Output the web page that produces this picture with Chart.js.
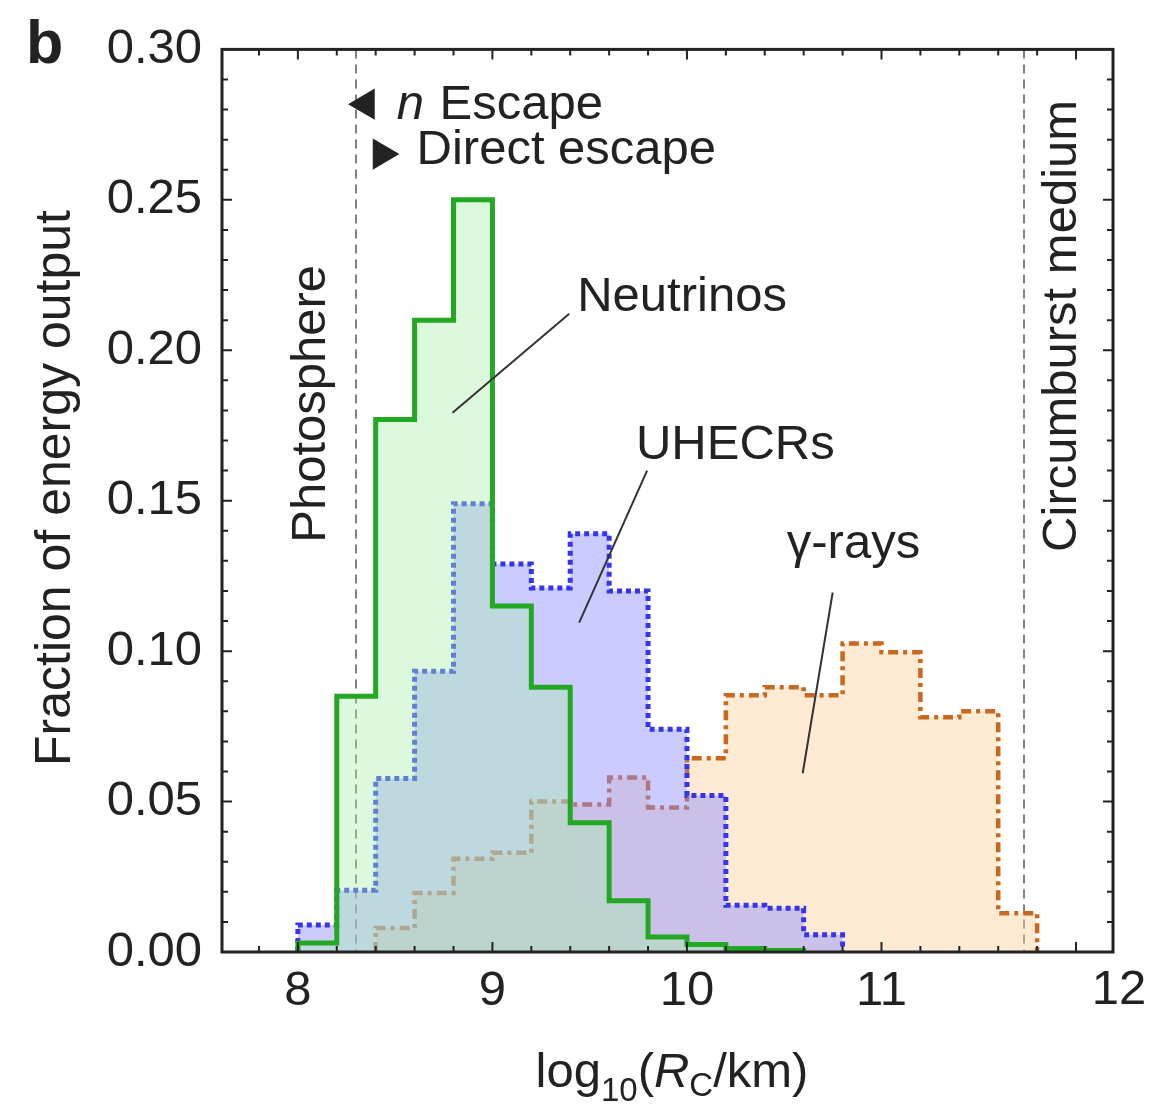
<!DOCTYPE html>
<html>
<head>
<meta charset="utf-8">
<script src="https://cdn.jsdelivr.net/npm/chart.js@4.4.0/dist/chart.umd.min.js"></script>
<style>
  html, body { margin: 0; padding: 0; background: #fff; }
  #wrap { width: 1154px; height: 1118px; }
</style>
</head>
<body>
<div id="wrap"><canvas id="chart" width="1154" height="1118"></canvas></div>
<script>
// bin edges in log10(Rc/km)
const binEdges = [8.0, 8.2, 8.4, 8.6, 8.8, 9.0, 9.2, 9.4, 9.6, 9.8,
                  10.0, 10.2, 10.4, 10.6, 10.8, 11.0, 11.2, 11.4, 11.6, 11.8];

// fraction of energy output per bin (null = empty bin)
const neutrinos = [0.003, 0.085, 0.177, 0.210, 0.250, 0.115, 0.088, 0.043, 0.017, 0.005,
                   0.0025, 0.0012, 0.0005, null, null, null, null, null, null];
const uhecrs    = [0.009, 0.0205, 0.0577, 0.0933, 0.149, 0.129, 0.121, 0.139, 0.120, 0.074,
                   0.052, 0.0155, 0.0145, 0.0057, null, null, null, null, null];
const gammaRays = [null, null, 0.008, 0.0196, 0.031, 0.033, 0.050, 0.049, 0.058, 0.048,
                   0.0644, 0.0853, 0.088, 0.0853, 0.1025, 0.0996, 0.078, 0.080, 0.0129];

const xTickLabels = [8, 9, 10, 11, 12];
const yTickLabels = [0, 0.05, 0.10, 0.15, 0.20, 0.25, 0.30];

// vertical markers
const photosphereX = 8.30;
const circumburstX = 11.73;

const FONT = '"Liberation Sans", Arial, Helvetica, sans-serif';
const INK = '#222';

// turn bin values into step points (left edge of every bin)
function histPoints(values) {
  const first = values.findIndex(v => v !== null);
  let last = values.length - 1;
  while (values[last] === null) last--;
  const pts = [{ x: binEdges[first], y: 0 }];
  for (let i = first; i <= last; i++) pts.push({ x: binEdges[i], y: values[i] });
  pts.push({ x: binEdges[last + 1], y: 0 });
  return pts;
}

/*************************************************
 * FRAME, TICKS AND ANNOTATIONS
 *************************************************/
const framePlugin = {
  id: 'frame',
  beforeDatasetsDraw(chart) {
    const { ctx, chartArea: a, scales: { x } } = chart;
    ctx.save();
    ctx.strokeStyle = '#808080';
    ctx.lineWidth = 2;
    ctx.setLineDash([9, 6]);
    [photosphereX, circumburstX].forEach(v => {
      const px = Math.round(x.getPixelForValue(v));
      ctx.beginPath();
      ctx.moveTo(px, a.top);
      ctx.lineTo(px, a.bottom);
      ctx.stroke();
    });
    ctx.restore();
  },
  afterDatasetsDraw(chart) {
    const { ctx, chartArea: a, scales: { x, y } } = chart;
    ctx.save();
    ctx.strokeStyle = INK;
    ctx.lineWidth = 2;
    ctx.beginPath();
    // x ticks every 0.2, major at integers (inward, top and bottom)
    for (let k = 38; k <= 61; k++) {
      const v = k / 5;
      if (v <= x.min || v >= x.max) continue;
      const px = x.getPixelForValue(v);
      const len = (k % 5 === 0) ? 10 : 6;
      ctx.moveTo(px, a.bottom); ctx.lineTo(px, a.bottom - len);
      ctx.moveTo(px, a.top); ctx.lineTo(px, a.top + len);
    }
    // y ticks every 0.01, major every 0.05 (inward, left and right)
    for (let k = 1; k < 30; k++) {
      const py = y.getPixelForValue(k / 100);
      const len = (k % 5 === 0) ? 10 : 6;
      ctx.moveTo(a.left, py); ctx.lineTo(a.left + len, py);
      ctx.moveTo(a.right, py); ctx.lineTo(a.right - len, py);
    }
    ctx.stroke();
    ctx.lineWidth = 3;
    ctx.strokeRect(a.left, a.top, a.right - a.left, a.bottom - a.top);
    ctx.restore();
  },
  afterDraw(chart) {
    const { ctx, chartArea: a, scales: { x, y } } = chart;
    const X = v => x.getPixelForValue(v);
    const Y = v => y.getPixelForValue(v);
    ctx.save();
    ctx.fillStyle = INK;
    ctx.strokeStyle = '#333';
    ctx.textBaseline = 'alphabetic';

    // panel letter
    ctx.font = 'bold 61px ' + FONT;
    ctx.textAlign = 'left';
    ctx.fillText('b', 26, 63);

    // last x tick label sits at the right end of the axis
    ctx.font = '49px ' + FONT;
    ctx.textAlign = 'center';
    ctx.textBaseline = 'top';
    ctx.fillText('12', a.right + 6, a.bottom + x.options.ticks.padding + 4);
    ctx.textBaseline = 'alphabetic';

    // y axis title
    ctx.save();
    ctx.translate(56, 488);
    ctx.rotate(-Math.PI / 2);
    ctx.font = '50px ' + FONT;
    ctx.textAlign = 'center';
    ctx.textBaseline = 'middle';
    ctx.fillText('Fraction of energy output', 0, 0);
    ctx.restore();

    // x axis title: log10(R_C/km)
    const big = '49px ' + FONT, small = '33px ' + FONT, bigIt = 'italic 49px ' + FONT;
    const parts = [
      { t: 'log', f: big, dy: 0 },
      { t: '10', f: small, dy: 14 },
      { t: '(', f: big, dy: 0 },
      { t: 'R', f: bigIt, dy: 0 },
      { t: 'C', f: small, dy: 9 },
      { t: '/km)', f: big, dy: 0 }
    ];
    let total = 0;
    parts.forEach(p => { ctx.font = p.f; p.w = ctx.measureText(p.t).width; total += p.w; });
    let cx = 672 - total / 2;
    ctx.textAlign = 'left';
    parts.forEach(p => { ctx.font = p.f; ctx.fillText(p.t, cx, 1087 + p.dy); cx += p.w; });

    // vertical region labels
    ctx.font = '49px ' + FONT;
    [['Photosphere', 8.138, 0.1822], ['Circumburst medium', 12.0, 0.2081]].forEach(([t, vx, vy]) => {
      ctx.save();
      ctx.translate(X(vx), Y(vy));
      ctx.rotate(-Math.PI / 2);
      ctx.textAlign = 'center';
      ctx.fillText(t, 0, 0);
      ctx.restore();
    });

    // escape arrows
    ctx.beginPath();
    ctx.moveTo(X(8.258), Y(0.2818));
    ctx.lineTo(X(8.395), Y(0.2870));
    ctx.lineTo(X(8.395), Y(0.2766));
    ctx.closePath();
    ctx.moveTo(X(8.522), Y(0.2652));
    ctx.lineTo(X(8.385), Y(0.2704));
    ctx.lineTo(X(8.385), Y(0.2600));
    ctx.closePath();
    ctx.fill();
    ctx.textAlign = 'left';
    ctx.font = 'italic 49px ' + FONT;
    ctx.fillText('n', X(8.508), Y(0.2768));
    ctx.font = '49px ' + FONT;
    ctx.fillText('Escape', X(8.728), Y(0.2768));
    ctx.fillText('Direct escape', X(8.610), Y(0.2619));

    // series labels with leader lines
    ctx.fillText('Neutrinos', X(9.436), Y(0.2131));
    ctx.fillText('UHECRs', X(9.738), Y(0.1639));
    ctx.fillText('\u03b3-rays', X(10.513), Y(0.1308));
    ctx.lineWidth = 2;
    ctx.beginPath();
    ctx.moveTo(X(9.395), Y(0.2121)); ctx.lineTo(X(8.795), Y(0.1792));
    ctx.moveTo(X(9.795), Y(0.1600)); ctx.lineTo(X(9.446), Y(0.1095));
    ctx.moveTo(X(10.749), Y(0.1195)); ctx.lineTo(X(10.595), Y(0.0594));
    ctx.stroke();
    ctx.restore();
  }
};

/*************************************************
 * CHART
 *************************************************/
const ctx = document.getElementById('chart').getContext('2d');

new Chart(ctx, {
  type: 'line',
  data: {
    datasets: [
      {
        label: 'Neutrinos',
        data: histPoints(neutrinos),
        borderColor: '#22a822',
        backgroundColor: 'rgba(170, 240, 170, 0.4)',
        borderWidth: 5
      },
      {
        label: 'UHECRs',
        data: histPoints(uhecrs),
        borderColor: '#3535ee',
        backgroundColor: 'rgba(140, 140, 255, 0.45)',
        borderWidth: 5,
        borderDash: [5, 4]
      },
      {
        label: 'γ-rays',
        data: histPoints(gammaRays),
        borderColor: '#c8691f',
        backgroundColor: 'rgba(255, 210, 160, 0.45)',
        borderWidth: 4.5,
        borderDash: [10, 5, 4, 5]
      }
    ]
  },
  options: {
    responsive: false,
    animation: false,
    devicePixelRatio: 1,
    layout: { padding: { top: 48, right: 41, left: 0, bottom: 0 } },
    elements: {
      line: { stepped: true, fill: 'origin', tension: 0, borderCapStyle: 'butt', borderJoinStyle: 'miter' },
      point: { radius: 0, hitRadius: 0, hoverRadius: 0 }
    },
    plugins: {
      legend: { display: false },
      tooltip: { enabled: false }
    },
    scales: {
      x: {
        type: 'linear',
        min: 7.61,
        max: 12.19,
        grid: { display: false, drawTicks: false },
        border: { display: false },
        afterBuildTicks: s => { s.ticks = xTickLabels.map(v => ({ value: v })); },
        afterFit: s => { s.height = 166; },
        ticks: {
          padding: 10,
          maxRotation: 0,
          autoSkip: false,
          color: INK,
          font: { family: FONT, size: 49 },
          callback: v => (v === 12 ? '' : String(v))
        }
      },
      y: {
        min: 0,
        max: 0.30,
        grid: { display: false, drawTicks: false },
        border: { display: false },
        afterBuildTicks: s => { s.ticks = yTickLabels.map(v => ({ value: v })); },
        afterFit: s => { s.width = 222; },
        ticks: {
          padding: 20,
          color: INK,
          font: { family: FONT, size: 49 },
          callback: v => Number(v).toFixed(2)
        }
      }
    }
  },
  plugins: [framePlugin]
});
</script>
</body>
</html>
